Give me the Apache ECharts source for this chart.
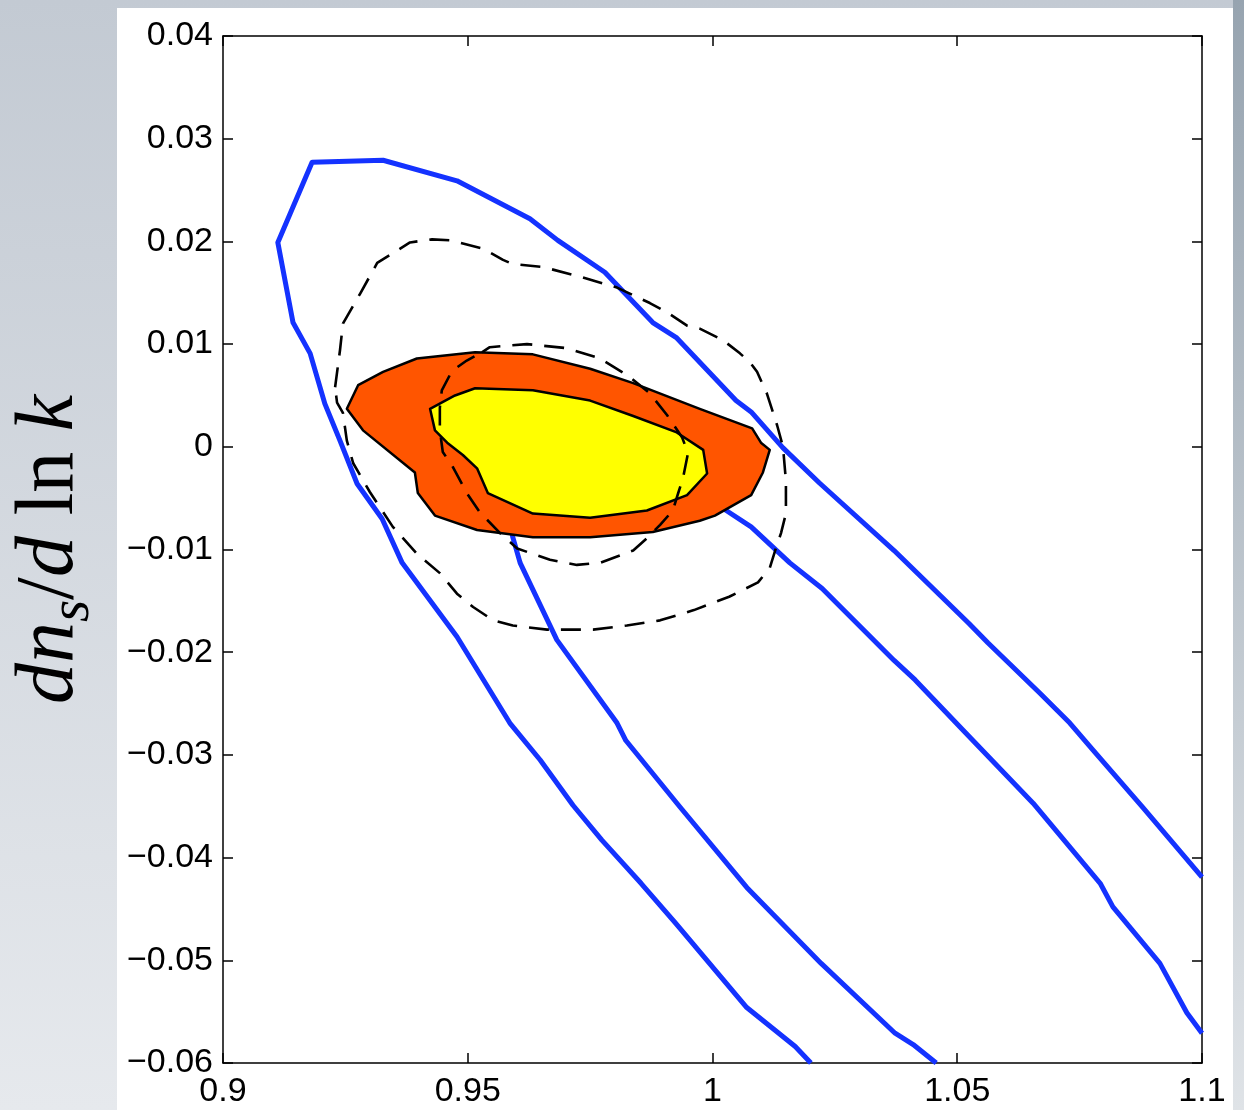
<!DOCTYPE html>
<html>
<head>
<meta charset="utf-8">
<title>dn_s/dlnk vs n_s</title>
<script src="https://cdn.jsdelivr.net/npm/echarts/dist/echarts.min.js"></script>
<style>
  html, body { margin: 0; padding: 0; width: 1244px; height: 1110px; overflow: hidden; }
  body { position: relative; background: linear-gradient(to bottom, #c3cad3, #e6e9ed); }
  #edge { position: absolute; left: 1233px; top: 0; width: 11px; height: 1110px;
          background: linear-gradient(to bottom, #97a4b0, #dfe3e7); }
  #panel { position: absolute; left: 117px; top: 8px; width: 1116px; height: 1102px; background: #fff; }
  #chart { position: absolute; left: 0; top: 0; width: 1244px; height: 1110px; }
</style>
</head>
<body>
<div id="edge"></div>
<div id="panel"></div>
<div id="chart"></div>
<script>
// Axis ticks and their printed labels
const xTicks = [0.9, 0.95, 1.0, 1.05, 1.1];
const xTickLabels = ['0.9', '0.95', '1', '1.05', '1.1'];
const yTicks = [-0.06, -0.05, -0.04, -0.03, -0.02, -0.01, 0, 0.01, 0.02, 0.03, 0.04];
const yTickLabels = ['\u22120.06', '\u22120.05', '\u22120.04', '\u22120.03', '\u22120.02', '\u22120.01',
                     '0', '0.01', '0.02', '0.03', '0.04'];

// Blue contours (n_s, dn_s/dlnk): wide 95% band and narrower 68% band
const blueOuter = [
  [1.0201, -0.0600], [1.0169, -0.0584], [1.0070, -0.0546], [0.9925, -0.0464], [0.9854, -0.0425],
  [0.9774, -0.0383], [0.9715, -0.0349], [0.9648, -0.0305], [0.9586, -0.0269], [0.9478, -0.0185],
  [0.9366, -0.0113], [0.9325, -0.0070], [0.9274, -0.0036], [0.9239, 0.0006], [0.9208, 0.0042],
  [0.9178, 0.0091], [0.9143, 0.0121], [0.9112, 0.0199], [0.9182, 0.0277], [0.9327, 0.0279],
  [0.9478, 0.0259], [0.9627, 0.0222], [0.9684, 0.0201], [0.9780, 0.0170], [0.9878, 0.0121],
  [0.9927, 0.0106], [1.0048, 0.0045], [1.0079, 0.0034], [1.0144, -0.0001], [1.0218, -0.0035],
  [1.0371, -0.0101], [1.0524, -0.0172], [1.0563, -0.0191], [1.0669, -0.0240], [1.0730, -0.0269],
  [1.0777, -0.0295], [1.0879, -0.0351], [1.1000, -0.0419]
];
const blueInner = [
  [1.0457, -0.0600], [1.0410, -0.0582], [1.0373, -0.0571], [1.0222, -0.0503], [1.0070, -0.0429],
  [0.9934, -0.0351], [0.9823, -0.0286], [0.9805, -0.0269], [0.9682, -0.0188], [0.9607, -0.0113],
  [0.9592, -0.0088], [0.9580, -0.0057], [0.9607, -0.0023], [0.9688, 0.0000], [0.9811, -0.0003],
  [0.9934, -0.0031], [1.0028, -0.0062], [1.0079, -0.0078], [1.0158, -0.0113], [1.0224, -0.0138],
  [1.0371, -0.0208], [1.0414, -0.0227], [1.0512, -0.0276], [1.0655, -0.0347], [1.0792, -0.0425],
  [1.0818, -0.0448], [1.0914, -0.0503], [1.0969, -0.0551], [1.1000, -0.0571]
];

// Filled combined-data regions: 95% (orange) and 68% (yellow)
const regionOuter = [
  [0.9253, 0.0037], [0.9276, 0.0060], [0.9327, 0.0073], [0.9396, 0.0086], [0.9515, 0.0092],
  [0.9633, 0.0090], [0.9750, 0.0076], [0.9838, 0.0062], [0.9974, 0.0037], [1.0081, 0.0018],
  [1.0099, 0.0004], [1.0117, -0.0003], [1.0103, -0.0025], [1.0079, -0.0047], [1.0005, -0.0067],
  [0.9974, -0.0072], [0.9878, -0.0083], [0.9750, -0.0088], [0.9633, -0.0088], [0.9519, -0.0081],
  [0.9433, -0.0067], [0.9398, -0.0045], [0.9392, -0.0025], [0.9286, 0.0016]
];
const regionInner = [
  [0.9423, 0.0037], [0.9433, 0.0016], [0.9458, 0.0004], [0.9490, -0.0008], [0.9519, -0.0021],
  [0.9541, -0.0045], [0.9633, -0.0065], [0.9750, -0.0069], [0.9866, -0.0062], [0.9948, -0.0047],
  [0.9989, -0.0026], [0.9981, -0.0003], [0.9927, 0.0014], [0.9838, 0.0030], [0.9750, 0.0045],
  [0.9633, 0.0055], [0.9515, 0.0057], [0.9474, 0.0050]
];

// Dashed contours
const dashOuter = [
  [0.9229, 0.0058], [0.9239, 0.0094], [0.9245, 0.0120], [0.9280, 0.0149], [0.9315, 0.0179],
  [0.9382, 0.0199], [0.9427, 0.0202], [0.9464, 0.0201], [0.9531, 0.0193], [0.9572, 0.0182],
  [0.9592, 0.0178], [0.9654, 0.0175], [0.9735, 0.0165], [0.9805, 0.0155], [0.9872, 0.0140],
  [0.9907, 0.0131], [0.9948, 0.0118], [0.9974, 0.0115], [1.0021, 0.0104], [1.0056, 0.0091],
  [1.0077, 0.0082], [1.0091, 0.0073], [1.0111, 0.0052], [1.0132, 0.0021], [1.0144, 0.0000],
  [1.0150, -0.0033], [1.0150, -0.0065], [1.0140, -0.0084], [1.0130, -0.0098], [1.0117, -0.0118],
  [1.0093, -0.0132], [1.0034, -0.0146], [0.9962, -0.0159], [0.9893, -0.0169], [0.9825, -0.0174],
  [0.9756, -0.0178], [0.9662, -0.0178], [0.9592, -0.0174], [0.9552, -0.0169], [0.9511, -0.0156],
  [0.9478, -0.0143], [0.9443, -0.0123], [0.9396, -0.0104], [0.9347, -0.0078], [0.9300, -0.0044],
  [0.9266, -0.0016], [0.9253, 0.0006], [0.9245, 0.0033], [0.9233, 0.0043], [0.9229, 0.0058]
];
const dashInner = [
  [0.9529, 0.0092], [0.9545, 0.0097], [0.9621, 0.0100], [0.9703, 0.0096], [0.9770, 0.0086],
  [0.9831, 0.0068], [0.9872, 0.0052], [0.9907, 0.0031], [0.9938, 0.0009], [0.9950, -0.0006],
  [0.9940, -0.0030], [0.9930, -0.0045], [0.9919, -0.0062], [0.9893, -0.0076], [0.9866, -0.0089],
  [0.9838, -0.0101], [0.9770, -0.0113], [0.9723, -0.0115], [0.9668, -0.0110], [0.9601, -0.0099],
  [0.9566, -0.0084], [0.9525, -0.0064], [0.9498, -0.0045], [0.9470, -0.0020], [0.9449, -0.0005],
  [0.9443, 0.0016], [0.9443, 0.0038], [0.9447, 0.0055], [0.9468, 0.0074], [0.9498, 0.0084],
  [0.9529, 0.0092]
];

const TICK_FONT = 'Liberation Sans, Arial, Helvetica, sans-serif';
const MATH_FONT = 'Liberation Serif, Times New Roman, serif';
const BLUE = '#1432ff';

function boxAxis(extra) {
  return Object.assign({
    type: 'value',
    axisLine: { show: true, onZero: false, lineStyle: { color: '#000', width: 1.5 } },
    axisTick: { show: true, inside: true, length: 10, lineStyle: { color: '#000', width: 1.5 } },
    splitLine: { show: false }
  }, extra);
}

function polygonSeries(name, points, fill, z) {
  return {
    name: name,
    type: 'custom',
    coordinateSystem: 'cartesian2d',
    data: [points[0]],
    z: z,
    clip: true,
    renderItem: function (params, api) {
      return {
        type: 'polygon',
        shape: { points: points.map(p => api.coord(p)) },
        style: { fill: fill, stroke: '#000', lineWidth: 2.5, lineJoin: 'round' }
      };
    }
  };
}

function lineSeries(name, points, color, width, dash, z) {
  return {
    name: name,
    type: 'line',
    data: points,
    showSymbol: false,
    symbol: 'none',
    smooth: false,
    z: z,
    clip: true,
    silent: true,
    lineStyle: { color: color, width: width, type: dash || 'solid', join: 'round', cap: 'butt' }
  };
}

const chart = echarts.init(document.getElementById('chart'), null, { renderer: 'canvas' });
chart.setOption({
  backgroundColor: 'transparent',
  animation: false,
  grid: { left: 223, top: 36, right: 42, bottom: 47, containLabel: false, outerBoundsMode: 'none' },
  xAxis: [
    boxAxis({
      position: 'bottom', min: xTicks[0], max: xTicks[xTicks.length - 1], interval: 0.05,
      axisLabel: {
        margin: 12, color: '#000', fontFamily: TICK_FONT, fontSize: 34,
        formatter: (v, i) => xTickLabels[i]
      }
    }),
    boxAxis({
      position: 'top', min: xTicks[0], max: xTicks[xTicks.length - 1], interval: 0.05,
      axisLabel: { show: false }
    })
  ],
  yAxis: [
    boxAxis({
      position: 'left', min: yTicks[0], max: yTicks[yTicks.length - 1], interval: 0.01,
      axisLabel: {
        margin: 10, color: '#000', fontFamily: TICK_FONT, fontSize: 34,
        formatter: (v, i) => yTickLabels[i]
      },
      name: '{i|dn}{s|s}{r|/}{i|d}{r| ln }{i|k}',
      nameLocation: 'middle',
      nameRotate: 90,
      nameGap: 128,
      nameTextStyle: {
        color: '#000', fontFamily: MATH_FONT, fontSize: 82,
        rich: {
          i: { fontFamily: MATH_FONT, fontStyle: 'italic', fontSize: 82, lineHeight: 90, color: '#000' },
          r: { fontFamily: MATH_FONT, fontSize: 82, lineHeight: 90, color: '#000' },
          s: { fontFamily: MATH_FONT, fontStyle: 'italic', fontSize: 57, lineHeight: 57,
               padding: [46, 0, 0, 0], color: '#000' }
        }
      }
    }),
    boxAxis({
      position: 'right', min: yTicks[0], max: yTicks[yTicks.length - 1], interval: 0.01,
      axisLabel: { show: false }
    })
  ],
  series: [
    lineSeries('blueOuter', blueOuter, BLUE, 5, null, 2),
    lineSeries('blueInner', blueInner, BLUE, 5, null, 2),
    polygonSeries('regionOuter', regionOuter, '#ff5500', 3),
    polygonSeries('regionInner', regionInner, '#ffff00', 4),
    lineSeries('dashOuter', dashOuter, '#000', 2.6, [20, 12], 5),
    lineSeries('dashInner', dashInner, '#000', 2.6, [20, 12], 5)
  ]
});
</script>
</body>
</html>
